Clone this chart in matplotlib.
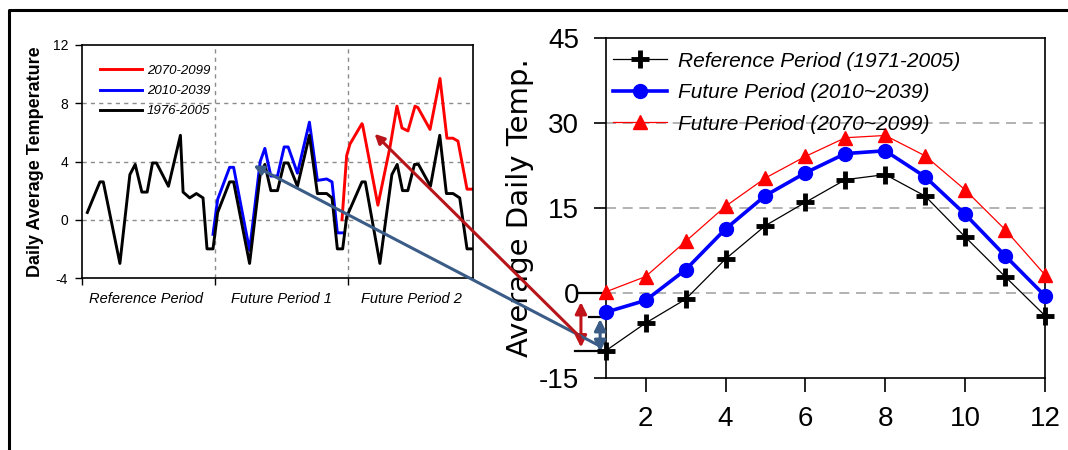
import matplotlib
matplotlib.use("Agg")
import matplotlib.pyplot as plt
from matplotlib.lines import Line2D
from matplotlib.patches import ConnectionPatch

plt.rcParams["font.family"] = ["Liberation Sans", "DejaVu Sans"]
plt.rcParams["axes.unicode_minus"] = False

# ---- left panel: daily series, x in "period" units (0-1 ref, 1-2 future 1, 2-3 future 2)
black_x = [0.04, 0.135, 0.16, 0.285, 0.36, 0.40, 0.45, 0.49, 0.53, 0.56, 0.65, 0.74, 0.76, 0.81, 0.86, 0.91, 0.94, 0.985,
           1.02, 1.11, 1.14, 1.26, 1.34, 1.375, 1.42, 1.47, 1.52, 1.55, 1.62, 1.71, 1.77, 1.84, 1.88, 1.92, 1.96,
           1.99, 2.105, 2.13, 2.24, 2.33, 2.37, 2.41, 2.45, 2.50, 2.53, 2.62, 2.69, 2.74, 2.79, 2.84, 2.895, 2.93]
black_y = [0.5, 2.6, 2.6, -3.0, 3.1, 3.8, 1.9, 1.9, 3.9, 3.9, 2.3, 5.8, 1.9, 1.5, 1.8, 1.5, -2.0, -2.0,
           0.5, 2.6, 2.6, -3.0, 3.1, 3.8, 2.0, 2.0, 3.9, 3.9, 2.3, 5.8, 1.8, 1.8, 1.5, -2.0, -2.0,
           0.2, 2.6, 2.6, -3.0, 3.1, 3.8, 2.0, 2.0, 3.8, 3.8, 2.3, 5.8, 1.8, 1.8, 1.5, -2.0, -2.0]
blue_x = [0.985, 1.02, 1.11, 1.14, 1.26, 1.34, 1.375, 1.42, 1.47, 1.52, 1.55, 1.62, 1.71, 1.77, 1.84, 1.88, 1.92, 1.96]
blue_y = [-1.0, 1.4, 3.6, 3.6, -2.1, 4.0, 4.9, 3.0, 3.0, 5.0, 5.0, 3.2, 6.7, 2.7, 2.8, 2.6, -0.9, -0.9]
red_x = [1.955, 1.99, 2.015, 2.105, 2.11, 2.225, 2.316, 2.368, 2.406, 2.451, 2.504, 2.526, 2.617, 2.692,
         2.744, 2.789, 2.827, 2.895, 2.932]
red_y = [0.0, 4.4, 5.2, 6.6, 6.5, 1.0, 5.0, 7.8, 6.3, 6.1, 7.8, 7.7, 6.2, 9.7, 5.6, 5.6, 5.4, 2.1, 2.1]
period_labels = ["Reference Period", "Future Period 1", "Future Period 2"]
period_centers = [0.48, 1.5, 2.48]
left_yticks = [-4, 0, 4, 8, 12]

# ---- right panel: monthly means
months = list(range(1, 13))
ref_month = [-10.2, -5.3, -1.1, 6.0, 11.9, 16.0, 20.0, 20.9, 17.1, 9.9, 2.9, -4.0]
fut1_month = [-3.4, -1.3, 4.1, 11.3, 17.2, 21.2, 24.6, 25.1, 20.5, 13.9, 6.6, -0.5]
fut2_month = [0.2, 2.9, 9.1, 15.3, 20.3, 24.1, 27.4, 27.8, 24.2, 18.2, 11.2, 3.2]
right_yticks = [-15, 0, 15, 30, 45]
right_xticks = [2, 4, 6, 8, 10, 12]
grid_levels = [0, 15, 30]

W, H = 1068, 450
fig = plt.figure(figsize=(W / 100, H / 100), dpi=100)

def box(x0, y0, x1, y1):
    return [x0 / W, 1 - y1 / H, (x1 - x0) / W, (y1 - y0) / H]

# outer frame (top and left visible)
fig.add_artist(Line2D([9 / W, 9 / W, 1], [0, 1 - 10 / H, 1 - 10 / H], transform=fig.transFigure,
                      color="black", lw=2.2))

# ---------------- left panel ----------------
ax1 = fig.add_axes(box(82, 45, 473, 278))
for v in [0, 4, 8]:
    ax1.axhline(v, color="#8c8c8c", lw=1, ls=(0, (3, 3)), zorder=1)
for v in [1, 2]:
    ax1.axvline(v, color="#8c8c8c", lw=1, ls=(0, (3, 3)), zorder=1)
ax1.plot(red_x, red_y, color="#ff0000", lw=2.1, label="2070-2099", zorder=2)
ax1.plot(blue_x, blue_y, color="#0000ff", lw=2.1, label="2010-2039", zorder=3)
ax1.plot(black_x, black_y, color="black", lw=2.1, label="1976-2005", zorder=4)
ax1.set_xlim(0, 2.94)
ax1.set_ylim(-4, 12)
ax1.set_yticks(left_yticks)
ax1.set_xticks([0, 1, 2])
ax1.set_xticklabels([])
ax1.set_xticks(period_centers, minor=True)
ax1.set_xticklabels(period_labels, minor=True, fontstyle="italic", fontsize=10.5)
ax1.tick_params(axis="x", which="minor", length=0, pad=10)
ax1.tick_params(axis="both", which="major", direction="out", length=5, width=1, labelsize=10, pad=5)
for s in ax1.spines.values():
    s.set_linewidth(1.2)
ax1.set_ylabel("Daily Average Temperature", fontsize=13, fontweight="bold", labelpad=6)
ax1.legend(loc="upper left", bbox_to_anchor=(0.045, 0.915), frameon=False,
           prop={"style": "italic", "size": 9.5}, handlelength=3.2, handletextpad=0.4,
           labelspacing=0.6, borderpad=0, borderaxespad=0)

# ---------------- right panel ----------------
ax2 = fig.add_axes(box(605.7, 38, 1045, 378))
for v in grid_levels:
    ax2.axhline(v, color="#a6a6a6", lw=1.2, ls=(0, (6, 4)), zorder=1)
ax2.plot(months, ref_month, color="black", lw=0.9, marker="+", ms=13, mew=3.5,
         label="Reference Period (1971-2005)", clip_on=False, zorder=5)
ax2.plot(months, fut1_month, color="#0000ff", lw=2.6, marker="o", ms=10,
         label="Future Period (2010~2039)", clip_on=False, zorder=4)
ax2.plot(months, fut2_month, color="#ff0000", lw=0.9, marker="^", ms=10,
         label="Future Period (2070~2099)", clip_on=False, zorder=3)
ax2.set_xlim(1, 12)
ax2.set_ylim(-15, 45)
ax2.set_xticks(right_xticks)
ax2.set_yticks(right_yticks)
ax2.tick_params(axis="y", direction="out", length=9, width=1.2, labelsize=20, pad=10)
ax2.tick_params(axis="x", direction="out", length=10, width=1.2, labelsize=20, pad=10)
for s in ax2.spines.values():
    s.set_linewidth(1.2)
ax2.set_ylabel("Average Daily Temp.", fontsize=21, family=["DejaVu Sans"], labelpad=4)
ax2.legend(loc="upper left", bbox_to_anchor=(0.017, 0.96), frameon=False,
           prop={"style": "italic", "size": 15}, handlelength=2.6, handletextpad=0.5,
           labelspacing=0.6, borderpad=0, borderaxespad=0)

# ---------------- annotations linking the panels ----------------
fig.add_artist(ConnectionPatch(xyA=(1.29, 3.73), coordsA=ax1.transData, xyB=(0.81, -9.2), coordsB=ax2.transData,
                               arrowstyle="<|-", mutation_scale=14, color="#3a5c86", lw=2.2, zorder=10))
fig.add_artist(ConnectionPatch(xyA=(2.2, 5.9), coordsA=ax1.transData, xyB=(0.36, -7.8), coordsB=ax2.transData,
                               arrowstyle="<|-", mutation_scale=14, color="#b8151b", lw=2.2, zorder=10))
ax2.annotate("", xy=(0.38, -1.6), xytext=(0.38, -9.6),
             arrowprops=dict(arrowstyle="<|-|>", color="#c0141a", lw=2.2, mutation_scale=17,
                             shrinkA=0, shrinkB=0),
             annotation_clip=False)
ax2.annotate("", xy=(0.86, -4.6), xytext=(0.86, -10.4),
             arrowprops=dict(arrowstyle="<|-|>", color="#3a5c86", lw=2.2, mutation_scale=17,
                             shrinkA=0, shrinkB=0),
             annotation_clip=False)
ax2.plot([0.31, 1], [0, 0], color="black", lw=1.6, clip_on=False, zorder=2)
ax2.plot([0.58, 1], [-4.3, -4.3], color="black", lw=1.6, clip_on=False, zorder=2)
ax2.plot([0.23, 1], [-10.3, -10.3], color="black", lw=1.6, clip_on=False, zorder=2)

fig.savefig("out.png", dpi=100)
